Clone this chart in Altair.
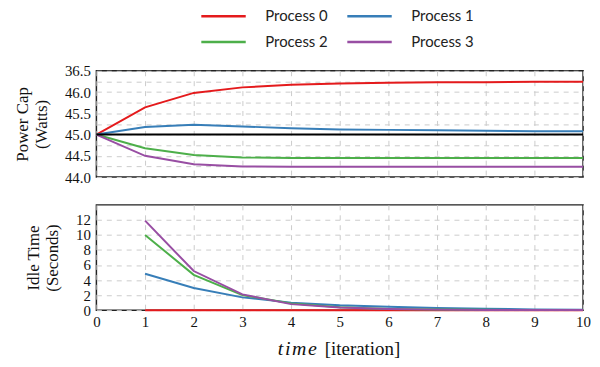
import altair as alt
import pandas as pd

iters = [0, 1, 2, 3, 4, 5, 6, 7, 8, 9, 10]
processes = ["Process 0", "Process 1", "Process 2", "Process 3"]
colors = ["#e41a1c", "#377eb8", "#4daf4a", "#984ea3"]

cap_p0 = [45.0, 45.64, 45.98, 46.11, 46.17, 46.20, 46.22, 46.23, 46.23, 46.24, 46.24]
cap_p1 = [45.0, 45.18, 45.23, 45.19, 45.15, 45.12, 45.11, 45.10, 45.09, 45.08, 45.08]
cap_p2 = [45.0, 44.68, 44.52, 44.46, 44.45, 44.45, 44.45, 44.45, 44.45, 44.45, 44.45]
cap_p3 = [45.0, 44.50, 44.30, 44.25, 44.24, 44.24, 44.24, 44.24, 44.24, 44.24, 44.24]

idle_iters = [1, 2, 3, 4, 5, 6, 7, 8, 9, 10]
idle_p0 = [0, 0, 0, 0, 0, 0, 0, 0, 0, 0]
idle_p1 = [4.85, 2.95, 1.7, 1.0, 0.65, 0.45, 0.3, 0.2, 0.1, 0.05]
idle_p2 = [10.0, 4.7, 2.0, 0.9, 0.4, 0.15, 0.08, 0.04, 0.02, 0.01]
idle_p3 = [11.9, 5.2, 2.1, 0.8, 0.35, 0.15, 0.07, 0.03, 0.02, 0.01]

cap_y_ticks = [44.0, 44.25, 44.5, 44.75, 45.0, 45.25, 45.5, 45.75, 46.0, 46.25, 46.5]
idle_y_ticks = [0, 2, 4, 6, 8, 10, 12]
x_ticks = list(range(0, 11))
reference_cap = [45.0]

cap_rows = []
for name, vals in zip(processes, [cap_p0, cap_p1, cap_p2, cap_p3]):
    for x, v in zip(iters, vals):
        cap_rows.append({"iter": x, "value": v, "process": name})
cap_df = pd.DataFrame(cap_rows)

idle_rows = []
for name, vals in zip(processes, [idle_p0, idle_p1, idle_p2, idle_p3]):
    for x, v in zip(idle_iters, vals):
        idle_rows.append({"iter": x, "value": v, "process": name})
idle_df = pd.DataFrame(idle_rows)

SERIF = "Liberation Serif"
W, H = 490, 107

color = alt.Color(
    "process:N",
    scale=alt.Scale(domain=processes, range=colors),
    legend=alt.Legend(
        title=None, orient="none", legendX=104, legendY=-62, columns=2,
        direction="horizontal",
        symbolType="stroke", symbolSize=2000, symbolStrokeWidth=2.5,
        labelOffset=18, columnPadding=18, rowPadding=11, clipHeight=14,
        labelFont="Lato", labelFontSize=15, labelColor="#222",
    ),
)

x_top = alt.X("iter:Q", scale=alt.Scale(domain=[0, 10], nice=False),
              axis=alt.Axis(values=x_ticks, labels=False, title=None))

cap_y_scale = alt.Scale(domain=[44.0, 46.5], nice=False, zero=False)
cap_y_axis = alt.Axis(
    values=cap_y_ticks, title=["Power Cap", "(Watts)"],
    labelExpr="datum.value == 46.5 ? '36.5' : ((datum.value * 2) % 1 == 0 ? format(datum.value, '.1f') : '')",
)

cap_lines = alt.Chart(cap_df).mark_line(strokeWidth=2).encode(
    x=x_top,
    y=alt.Y("value:Q", scale=cap_y_scale, axis=cap_y_axis),
    color=color,
    order=alt.Order("iter:Q"),
)

ref_df = pd.DataFrame({"value": reference_cap})
ref_rule = alt.Chart(ref_df).mark_rule(color="black", strokeWidth=2).encode(
    y=alt.Y("value:Q", scale=cap_y_scale, axis=cap_y_axis))

top = alt.layer(cap_lines, ref_rule).properties(width=W, height=H)

x_bot = alt.X("iter:Q", scale=alt.Scale(domain=[0, 10], nice=False),
              axis=alt.Axis(values=x_ticks, title=None, labelPadding=4))

idle_lines = alt.Chart(idle_df).mark_line(strokeWidth=2).encode(
    x=x_bot,
    y=alt.Y("value:Q", scale=alt.Scale(domain=[0, 14], nice=False),
            axis=alt.Axis(values=idle_y_ticks, title=["Idle Time", "(Seconds)"])),
    color=color,
    order=alt.Order("iter:Q"),
)

t1 = alt.Chart(pd.DataFrame({"t": ["t\u200ai\u200am\u200ae"]})).mark_text(
    font=SERIF, fontSize=20, fontStyle="italic", align="right", baseline="alphabetic",
    color="#111"
).encode(text="t:N", x=alt.value(222), y=alt.value(151))

t2 = alt.Chart(pd.DataFrame({"t": ["[iteration]"]})).mark_text(
    font=SERIF, fontSize=19, align="left", baseline="alphabetic", color="#111"
).encode(text="t:N", x=alt.value(230), y=alt.value(151))

bottom = alt.layer(idle_lines, t1, t2).properties(width=W, height=106)

chart = alt.vconcat(top, bottom, spacing=18).properties(
    padding={"left": 5, "top": 0, "right": 0, "bottom": 3}
).configure(font=SERIF).configure_view(stroke="#222", strokeWidth=1.5).configure_axis(
    gridDash=[5, 5], gridColor="#cccccc", gridWidth=1, ticks=False,
    domain=False, labelFont=SERIF, labelFontSize=15, labelColor="#111",
    labelOverlap=False, labelFlush=False, labelPadding=6, titlePadding=14,
    titleFont=SERIF, titleFontSize=17, titleFontWeight="normal", titleColor="#111",
)

chart.save("out.html", embed_options={"renderer": "svg", "actions": False})
